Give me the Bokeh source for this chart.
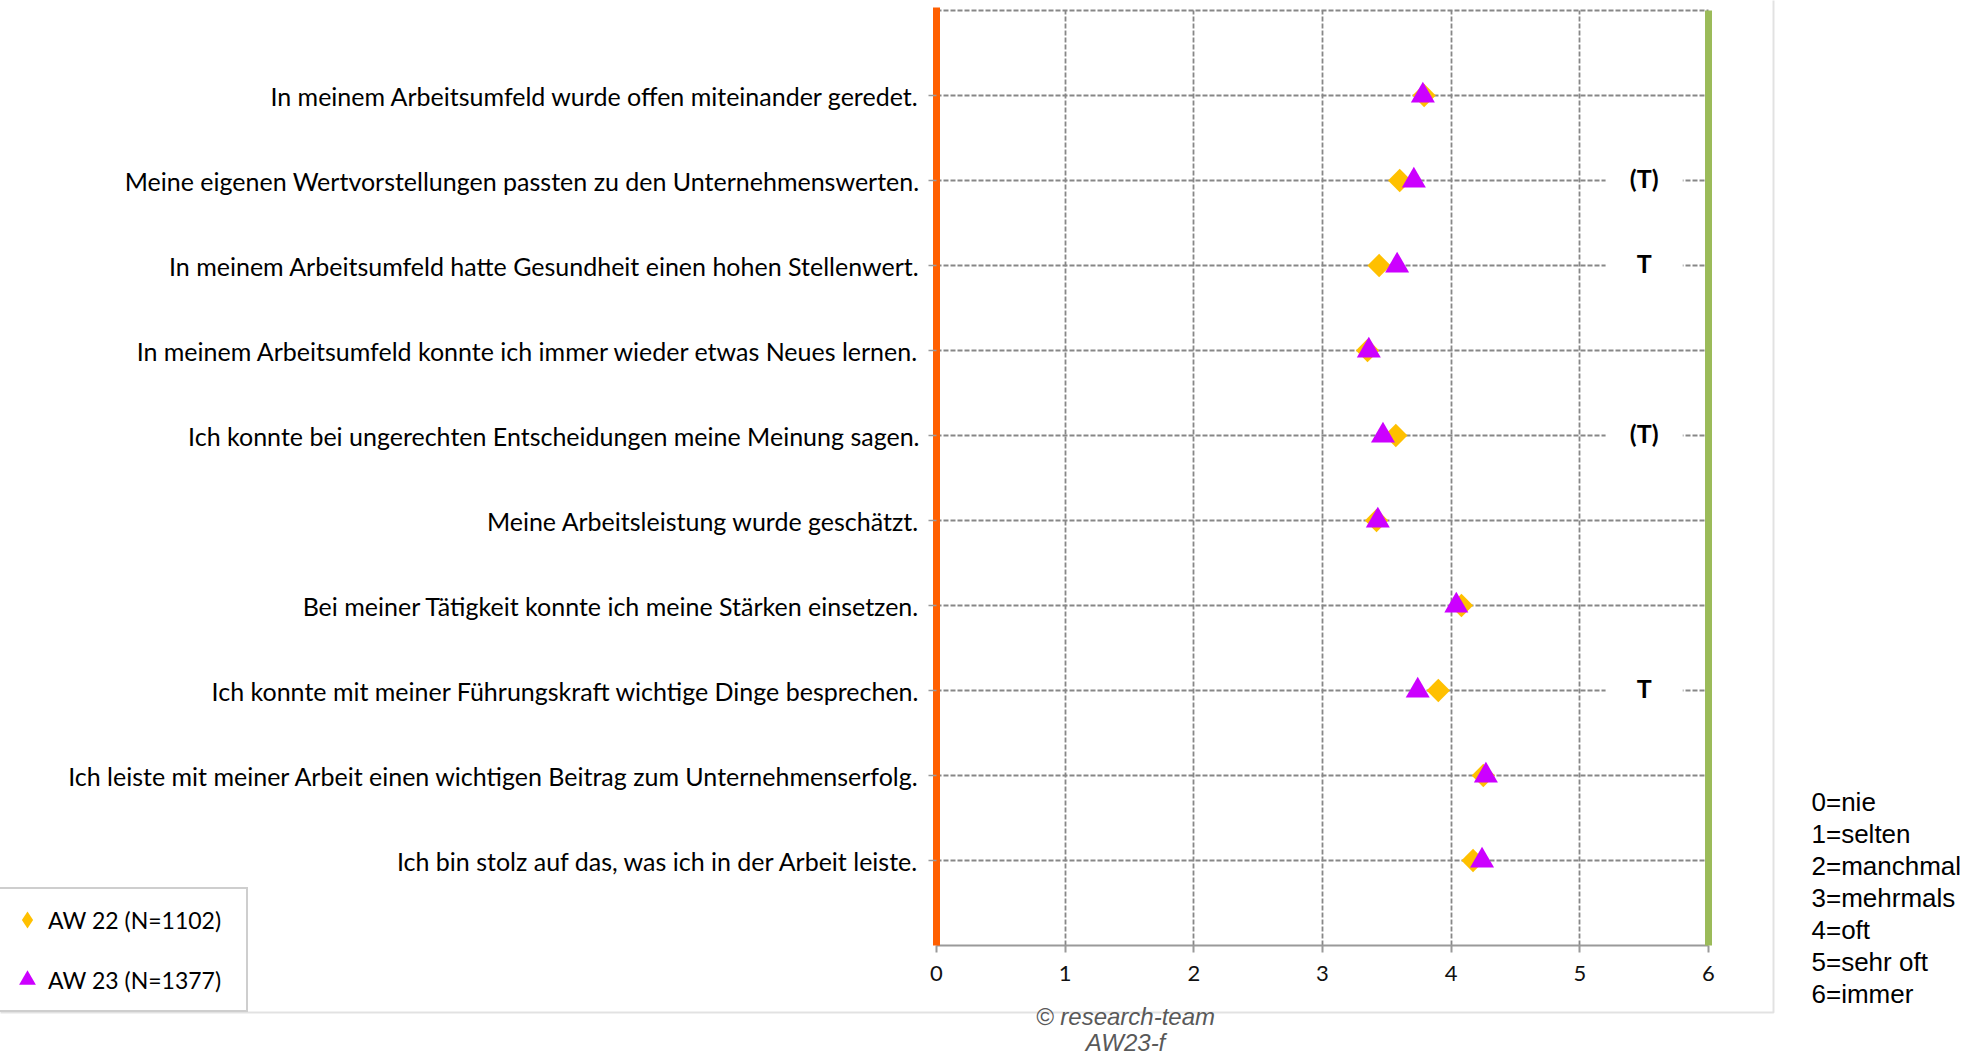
import math
from bokeh.plotting import figure
from bokeh.models import (Range1d, FixedTicker, Label, Legend, LegendItem,
                          BoxAnnotation, ColumnDataSource, LinearAxis)
from bokeh.embed import file_html
from bokeh.resources import INLINE
from bokeh.core.properties import value

# ---------------- data ----------------
statements = [
    "In meinem Arbeitsumfeld wurde offen miteinander geredet.",
    "Meine eigenen Wertvorstellungen passten zu den Unternehmenswerten.",
    "In meinem Arbeitsumfeld hatte Gesundheit einen hohen Stellenwert.",
    "In meinem Arbeitsumfeld konnte ich immer wieder etwas Neues lernen.",
    "Ich konnte bei ungerechten Entscheidungen meine Meinung sagen.",
    "Meine Arbeitsleistung wurde geschätzt.",
    "Bei meiner Tätigkeit konnte ich meine Stärken einsetzen.",
    "Ich konnte mit meiner Führungskraft wichtige Dinge besprechen.",
    "Ich leiste mit meiner Arbeit einen wichtigen Beitrag zum Unternehmenserfolg.",
    "Ich bin stolz auf das, was ich in der Arbeit leiste.",
]
aw22 = [3.79, 3.60, 3.44, 3.35, 3.57, 3.42, 4.08, 3.90, 4.25, 4.17]
aw23 = [3.78, 3.71, 3.58, 3.36, 3.47, 3.43, 4.04, 3.74, 4.27, 4.24]
sig_marks = ["", "(T)", "T", "", "(T)", "", "", "T", "", ""]
series_names = ["AW 22 (N=1102)", "AW 23 (N=1377)"]
x_ticks = [0, 1, 2, 3, 4, 5, 6]
scale_labels = ["0=nie", "1=selten", "2=manchmal", "3=mehrmals", "4=oft",
                "5=sehr oft", "6=immer"]
copyright_lines = ["\u00a9 research-team", "AW23-f"]
sig_column = 5.5

# ---------------- layout (pixel geometry of the plot area) ----------------
W, H = 1972, 1056
FL, FR, FT, FB = 936, 1708, 10, 945   # plot-area edges in pixels
n = len(statements)
ypos = list(range(n, 0, -1))
xmin, xmax = x_ticks[0], x_ticks[-1]
ux = (FR - FL) / (xmax - xmin)
uy = (FB - FT) / (n + 1)


def dx(px):
    return xmin + (px - FL) / ux


def dy(py):
    return (FB - py) / uy


p = figure(width=W, height=H,
           x_range=Range1d(dx(0), dx(W)), y_range=Range1d(dy(H), dy(0)),
           min_border=0, output_backend="svg", toolbar_location=None)
p.title.visible = False
p.outline_line_color = None
p.background_fill_color = "white"
p.border_fill_color = "white"

GRID = "#878787"
# grids
p.xgrid.ticker = FixedTicker(ticks=x_ticks[1:-1])
p.xgrid.cross_bounds = (0, n + 1)
p.xgrid.grid_line_color = GRID
p.xgrid.grid_line_dash = "5 2"
p.xgrid.grid_line_width = 1.8
p.ygrid.ticker = FixedTicker(ticks=list(range(1, n + 2)))
p.ygrid.cross_bounds = (xmin, xmax)
p.ygrid.grid_line_color = GRID
p.ygrid.grid_line_dash = "5 2"
p.ygrid.grid_line_width = 1.8

# x axis
xa = p.xaxis[0]
xa.fixed_location = 0
xa.bounds = (xmin, xmax)
xa.ticker = FixedTicker(ticks=x_ticks)
xa.axis_line_color = "#9A9A9A"
xa.axis_line_width = 2
xa.major_tick_line_color = "#9A9A9A"
xa.major_tick_line_width = 2
xa.major_tick_in = 0
xa.major_tick_out = 7
xa.minor_tick_line_color = None
xa.major_label_standoff = 13
xa.major_label_text_font = "Lato"
xa.major_label_text_font_size = "22px"
xa.major_label_text_color = "#111111"

# y axis (statements), orange line = "nie"
ya = p.yaxis[0]
ya.fixed_location = xmin
ya.bounds = (0, n + 1 + 3.3 / uy)
ya.ticker = FixedTicker(ticks=ypos)
ya.major_label_overrides = {y: s for y, s in zip(ypos, statements)}
ya.axis_line_color = "#FF5F00"
ya.axis_line_width = 7
ya.major_tick_line_color = "#9A9A9A"
ya.major_tick_line_width = 1.5
ya.major_tick_in = 0
ya.major_tick_out = 8
ya.minor_tick_line_color = None
ya.major_label_standoff = 9
ya.major_label_text_font = "Lato"
ya.major_label_text_font_size = "25px"
ya.major_label_text_color = "#000000"

# green line = "immer"
ra = LinearAxis(fixed_location=xmax, bounds=(0, n + 1),
                ticker=FixedTicker(ticks=[]),
                axis_line_color="#9BBB59", axis_line_width=7,
                major_tick_line_color=None, minor_tick_line_color=None,
                major_label_text_color=None)
p.add_layout(ra, "right")

# significance marks with white background over the gridline
t_y = [y for y, s in zip(ypos, sig_marks) if s]
t_t = [s for s in sig_marks if s]
tsrc = ColumnDataSource(dict(x=[sig_column] * len(t_y), y=t_y, t=t_t))
p.rect(x="x", y="y", width=0.6, height=0.35, source=tsrc,
       fill_color="white", line_color=None)
p.text(x="x", y="y", text="t", source=tsrc, text_font=value("Lato"),
       text_font_style="bold", text_font_size="25px", text_align="center",
       text_baseline="middle", text_color="#000000", y_offset=-3)

# data markers
src = ColumnDataSource(dict(y=ypos, aw22=aw22, aw23=aw23))
r22 = p.scatter("aw22", "y", source=src, marker="square", size=16.5,
                angle=math.pi / 4, fill_color="#FFC000", line_color=None)
r23 = p.scatter("aw23", "y", source=src, marker="triangle", size=24,
                fill_color="#CC00FF", line_color=None)
# legend swatch for AW 22 (a rotated square is drawn unrotated in legends)
r22_key = p.scatter("aw22", "y", source=src, marker="diamond", size=16,
                    fill_color="#FFC000", line_color=None, visible=False)

# outer chart frame
p.add_layout(BoxAnnotation(left=dx(-20), right=dx(1773), bottom=dy(1012),
                           top=dy(-20), fill_alpha=0, fill_color=None,
                           line_color="#9E9E9E", line_width=2))

# legend
legend = Legend(items=[LegendItem(label=series_names[0], renderers=[r22_key]),
                       LegendItem(label=series_names[1], renderers=[r23])],
                location=(-4, H - 1012),
                glyph_width=42, glyph_height=45, spacing=15, padding=8,
                margin=0, label_standoff=0, label_height=45, label_width=190,
                label_text_font="Lato", label_text_font_size="23px",
                label_text_color="#000000",
                border_line_color="#9E9E9E", border_line_width=2,
                background_fill_color="white", background_fill_alpha=1.0)
p.add_layout(legend)

# scale explanation
for i, s in enumerate(scale_labels):
    p.add_layout(Label(x=dx(1811), y=dy(801 + 32 * i), text=s,
                       text_font="Liberation Sans", text_font_size="26px",
                       text_baseline="middle", text_align="left",
                       text_color="#000000"))

# copyright
for i, s in enumerate(copyright_lines):
    p.add_layout(Label(x=dx(1125), y=dy(1016 + 26 * i), text=s,
                       text_font="Liberation Sans", text_font_style="italic",
                       text_font_size="24px", text_baseline="middle",
                       text_align="center", text_color="#595959"))

open("out.html", "w").write(file_html(p, INLINE))
